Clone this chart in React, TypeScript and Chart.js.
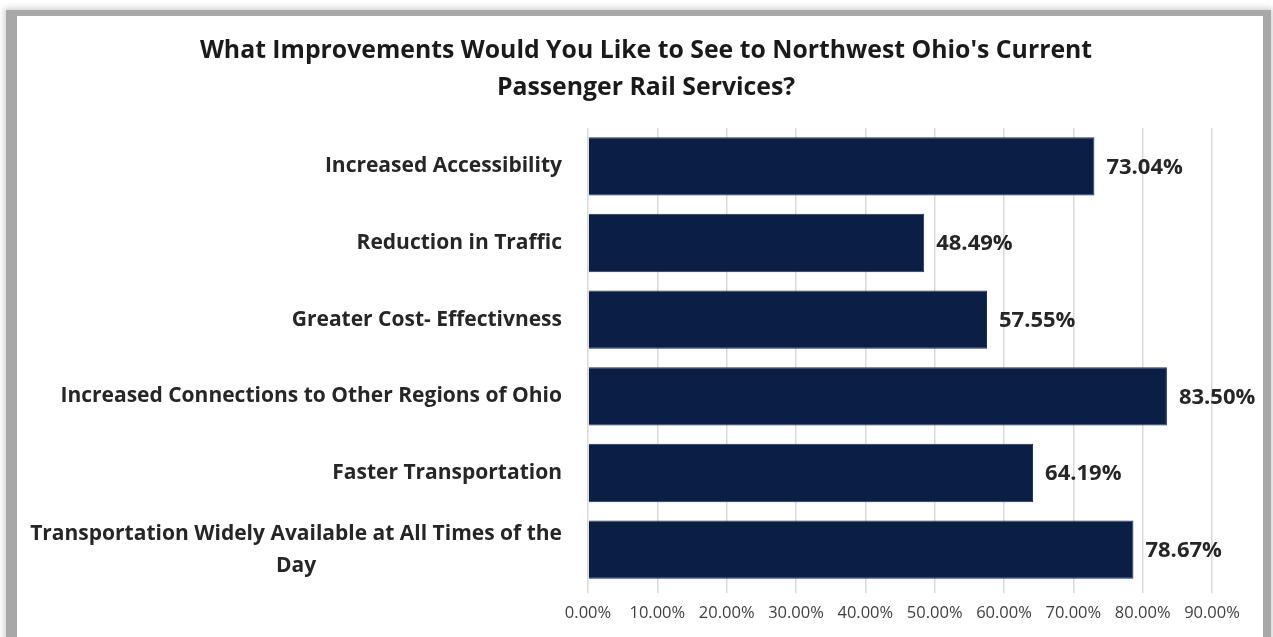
import React, { useEffect, useRef } from "react";
import { Chart, registerables } from "chart.js";

Chart.register(...registerables);

const titleLines = [
  "What Improvements Would You Like to See to Northwest Ohio's Current",
  "Passenger Rail Services?",
];
const categories: string[][] = [
  ["Increased Accessibility"],
  ["Reduction in Traffic"],
  ["Greater Cost- Effectivness"],
  ["Increased Connections to Other Regions of Ohio"],
  ["Faster Transportation"],
  ["Transportation Widely Available at All Times of the", "Day"],
];
const values = [73.04, 48.49, 57.55, 83.5, 64.19, 78.67];
const axisMax = 90;
const tickStep = 10;

const FONT = "'Open Sans', Lato, sans-serif";

const labelPlugin = {
  id: "customLabels",
  afterDraw(chart: any) {
    const ctx = chart.ctx;
    const y = chart.scales.y;
    const x = chart.scales.x;
    ctx.save();
    // title
    ctx.font = `bold 24.8px ${FONT}`;
    ctx.fillStyle = "#1a1a1a";
    ctx.textAlign = "center";
    ctx.textBaseline = "middle";
    titleLines.forEach((l, i) => ctx.fillText(l, 629, 35 + i * 37));
    // category labels
    ctx.font = `bold 21px ${FONT}`;
    ctx.fillStyle = "#262626";
    const right = chart.chartArea.left - 26;
    const lh = 32;
    categories.forEach((lines, i) => {
      const cy = y.getPixelForValue(i);
      const maxW = Math.max(...lines.map((l) => ctx.measureText(l).width));
      const cx = right - maxW / 2;
      const start = cy - ((lines.length - 1) * lh) / 2;
      lines.forEach((l, j) => ctx.fillText(l, cx, start + j * lh));
    });
    // data labels
    ctx.font = `bold 22px ${FONT}`;
    ctx.textAlign = "left";
    ctx.fillStyle = "#262626";
    values.forEach((v, i) => {
      const px = x.getPixelForValue(v);
      const cy = y.getPixelForValue(i);
      ctx.fillText(v.toFixed(2) + "%", px + 12, cy + 1);
    });
    ctx.restore();
  },
};

export default function App() {
  const ref = useRef<HTMLCanvasElement>(null);
  useEffect(() => {
    if (!ref.current) return;
    const chart = new Chart(ref.current, {
      type: "bar",
      data: {
        labels: categories.map((c) => c.join(" ")),
        datasets: [
          {
            data: values,
            backgroundColor: "#0b1f45",
            borderColor: "#1c3159",
            borderWidth: 1,
            categoryPercentage: 1,
            barPercentage: 0.76,
          },
        ],
      },
      options: {
        indexAxis: "y",
        animation: false,
        responsive: false,
        maintainAspectRatio: false,
        layout: { padding: { left: 0, right: 51, top: 112, bottom: 0 } },
        plugins: {
          legend: { display: false },
          tooltip: { enabled: false },
          title: { display: false },
        },
        scales: {
          x: {
            min: 0,
            max: axisMax,
            position: "bottom",
            border: { display: false },
            grid: { color: "#d9d9d9", lineWidth: 1.5, tickLength: 5 },
            ticks: {
              stepSize: tickStep,
              padding: 10,
              color: "#404040",
              font: { family: FONT, size: 16.5 },
              callback: (v: any) => Number(v).toFixed(2) + "%",
            },
            afterFit: (s: any) => {
              s.height = 68;
            },
          },
          y: {
            border: { display: false },
            grid: { display: false },
            ticks: { display: false },
            afterFit: (s: any) => {
              s.width = 571;
            },
          },
        },
      },
      plugins: [labelPlugin],
    });
    return () => chart.destroy();
  }, []);
  return (
    <div
      style={{
        position: "fixed",
        left: 0,
        top: 0,
        width: 1273,
        height: 637,
        overflow: "hidden",
        background: "#ffffff",
      }}
    >
      <div
        style={{
          position: "absolute",
          left: 6,
          top: 10,
          width: 1246,
          height: 660,
          borderLeft: "11px solid #a8a8a8",
          borderTop: "6px solid #a8a8a8",
          borderRight: "8px solid #a8a8a8",
          boxShadow: "0 0 6px 2px rgba(0,0,0,0.18)",
          background: "#ffffff",
        }}
      >
        <canvas ref={ref} width={1246} height={640} style={{ display: "block" }} />
      </div>
    </div>
  );
}
